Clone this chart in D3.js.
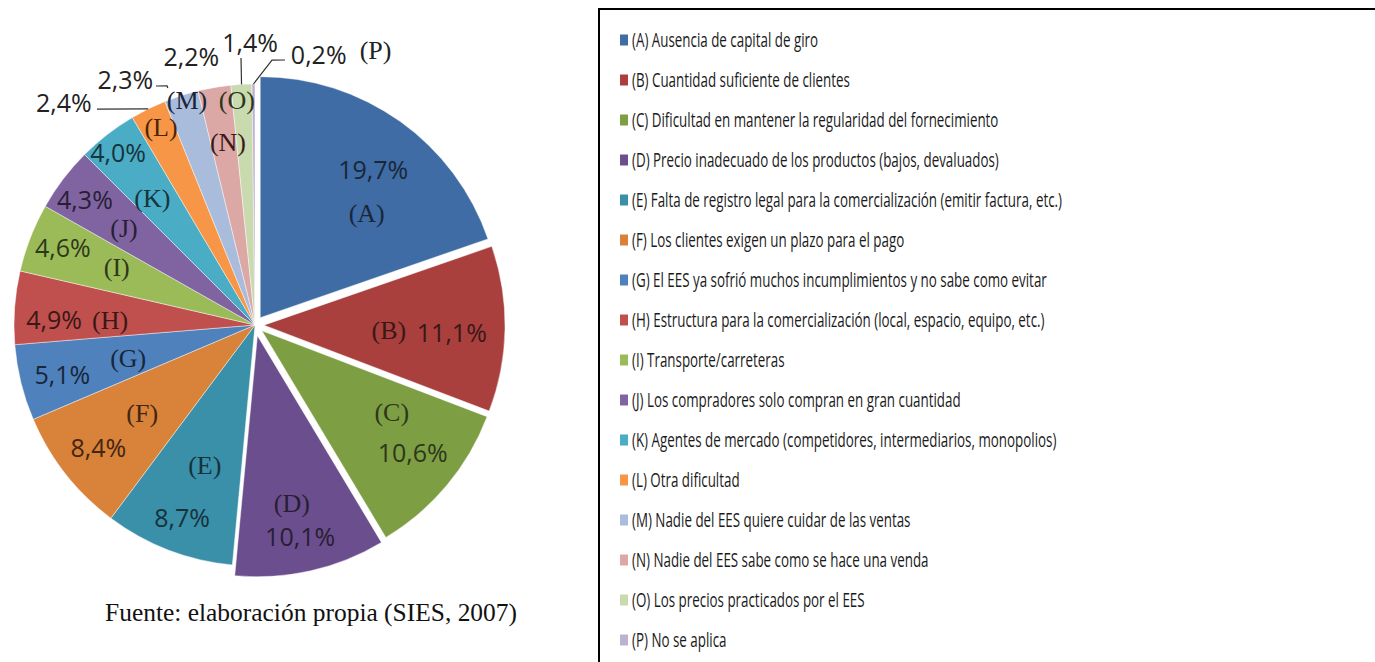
<!DOCTYPE html>
<html><head><meta charset="utf-8">
<script src="https://cdn.jsdelivr.net/npm/d3@7"></script>
<style>
html,body{margin:0;padding:0;background:#fff;}
svg{display:block;}
</style></head>
<body>
<svg id="chart" width="1375" height="662"></svg>
<script>
// ---- data ----
const codes = ["A","B","C","D","E","F","G","H","I","J","K","L","M","N","O","P"];
const values = [19.7,11.1,10.6,10.1,8.7,8.4,5.1,4.9,4.6,4.3,4.0,2.4,2.3,2.2,1.4,0.2];
const pctLabels = ["19,7%","11,1%","10,6%","10,1%","8,7%","8,4%","5,1%","4,9%","4,6%","4,3%","4,0%","2,4%","2,3%","2,2%","1,4%","0,2%"];
const descriptions = [
  "Ausencia de capital de giro",
  "Cuantidad suficiente de clientes",
  "Dificultad en mantener la regularidad del fornecimiento",
  "Precio inadecuado de los productos (bajos, devaluados)",
  "Falta de registro legal para la comercialización (emitir factura, etc.)",
  "Los clientes exigen un plazo para el pago",
  "El EES ya sofrió muchos incumplimientos y no sabe como evitar",
  "Estructura para la comercialización (local, espacio, equipo, etc.)",
  "Transporte/carreteras",
  "Los compradores solo compran en gran cuantidad",
  "Agentes de mercado (competidores, intermediarios, monopolios)",
  "Otra dificultad",
  "Nadie del EES quiere cuidar de las ventas",
  "Nadie del EES sabe como se hace una venda",
  "Los precios practicados por el EES",
  "No se aplica"
];
const colors = ["#3F6CA4","#A9403E","#7E9E44","#6B4E8E","#3A8FA9","#D9823A",
                "#4F81BD","#C0504D","#9BBB59","#8064A2","#4BACC6","#F79646",
                "#A9BCDB","#DCA8A6","#C9DAAF","#BDB2D0"];
const exploded = ["A","B","C","D"];
const source = "Fuente: elaboración propia (SIES, 2007)";

// ---- layout (label placement, polar: [angle deg clockwise from top, radius px]) ----
const pctPos = [[37.3,195],[92.3,197],[129,203],[168,217],[200.7,206],[231.9,199],[255.5,199],[271.4,201],
                [291.9,207],[306.3,211],[321.5,220],[319.3,293],[332.1,277],[346.6,275],[359,282],[13.3,277]];
const letPos = [[45,158],[92.1,134],[122.4,162],[168.3,182],[199.7,149],[232.1,143],[255.4,131],[272,145],
                [292.8,150],[306.5,163],[321,163],[334.6,219],[343.2,235],[351.6,185],[355.4,226],[23.7,300]];
const outside = ["L","M","N","O","P"];
const leaders = {
  L: [[333.7,241],[323.8,267.6]],
  M: [[339.8,252.5],[339.8,254.7],[337.5,258.7]],
  O: [[356.8,241],[357.0,267.4]],
  P: [[359.64,241],[3.67,265.5],[6.46,266.7]]
};

const svg = d3.select("#chart");
const cx = 255, cy = 325, R = 241, explodeDist = 9;
const toRad = a => a * Math.PI / 180;
const polar = (a, r) => [cx + r * Math.sin(toRad(a)), cy - r * Math.cos(toRad(a))];

const pie = d3.pie().sort(null).value(d => d.v);
const data = codes.map((c, i) => ({c, v: values[i], pct: pctLabels[i], desc: descriptions[i], col: colors[i], i}));
const arcs = pie(data);
const arc = d3.arc().innerRadius(0).outerRadius(R);

const gPie = svg.append("g").attr("transform", `translate(${cx},${cy})`);
gPie.selectAll("path").data(arcs).join("path")
  .attr("d", arc)
  .attr("fill", d => d.data.col)
  .attr("stroke", "rgba(255,255,255,0.55)")
  .attr("stroke-width", 0.8)
  .attr("transform", d => {
    if (!exploded.includes(d.data.c)) return null;
    const m = (d.startAngle + d.endAngle) / 2;
    const dist = d.data.c === "D" ? explodeDist + 2 : explodeDist;
    return `translate(${Math.sin(m) * dist},${-Math.cos(m) * dist})`;
  });

function darkOf(col) { const h = d3.hsl(col); h.l = 0.16; h.s = Math.min(1, h.s * 0.9); return h.toString(); }

// leader lines
Object.entries(leaders).forEach(([c, pts]) => {
  svg.append("path")
    .attr("d", d3.line()(pts.map(p => polar(p[0], p[1]))))
    .attr("fill", "none").attr("stroke", "#333").attr("stroke-width", 1.2);
});

// labels
arcs.forEach(d => {
  const i = d.data.i;
  const out = outside.includes(d.data.c);
  const pp = polar(pctPos[i][0], pctPos[i][1]);
  const lp = polar(letPos[i][0], letPos[i][1]);
  svg.append("text").attr("x", pp[0]).attr("y", pp[1]).attr("dy", "0.36em")
    .attr("text-anchor", "middle")
    .attr("font-family", "'Open Sans', sans-serif").attr("font-size", 25)
    .attr("fill", out ? "#222" : darkOf(d.data.col))
    .text(d.data.pct);
  svg.append("text").attr("x", lp[0]).attr("y", lp[1]).attr("dy", "0.34em")
    .attr("text-anchor", "middle")
    .attr("font-family", "'Liberation Serif', 'Times New Roman', serif").attr("font-size", 26)
    .attr("fill", d.data.c === "P" ? "#222" : darkOf(d.data.col))
    .text(`(${d.data.c})`);
});

// source caption
svg.append("text").attr("x", 311).attr("y", 621).attr("text-anchor", "middle")
  .attr("font-family", "'Liberation Serif', 'Times New Roman', serif").attr("font-size", 26)
  .attr("fill", "#111")
  .attr("textLength", 412).attr("lengthAdjust", "spacingAndGlyphs")
  .text(source);

// legend box
svg.append("rect").attr("x", 599).attr("y", 9).attr("width", 900).attr("height", 800)
  .attr("fill", "none").attr("stroke", "#000").attr("stroke-width", 2);

const legY = d3.scaleBand().domain(codes).range([20, 660]);
const lg = svg.append("g");
const rows = lg.selectAll("g").data(data).join("g")
  .attr("transform", d => `translate(0,${legY(d.c) + legY.bandwidth() / 2})`);
rows.append("rect").attr("x", 620).attr("y", -5.5).attr("width", 8).attr("height", 11).attr("fill", d => d.col);
const texts = rows.append("text").attr("x", 632).attr("dy", "0.36em")
  .attr("font-family", "'Open Sans', sans-serif").attr("font-size", 19.5)
  .attr("fill", "#1a1a1a")
  .text(d => `(${d.c}) ${d.desc}`);
// condense to match the narrow legend typeface
const refLen = texts.filter(d => d.c === "E").node().getComputedTextLength();
const k = 430 / refLen;
texts.each(function() {
  const L = this.getComputedTextLength();
  d3.select(this).attr("textLength", L * k).attr("lengthAdjust", "spacingAndGlyphs");
});
</script>
</body></html>
